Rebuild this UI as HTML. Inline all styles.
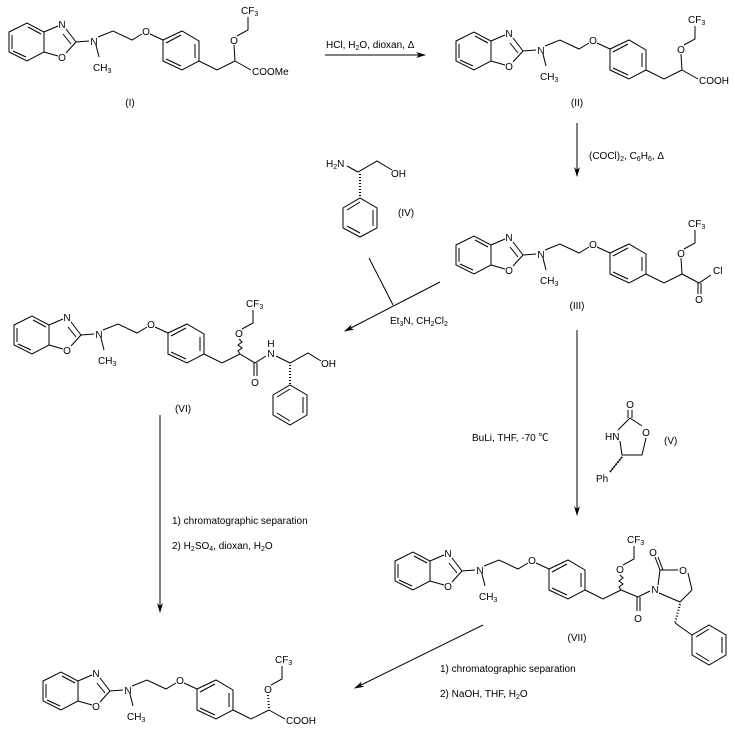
<!DOCTYPE html>
<html><head><meta charset="utf-8"><style>
html,body{margin:0;padding:0;background:#fff}
svg{display:block}
text{font-family:"Liberation Sans","Noto Sans CJK SC",sans-serif;font-size:10px;fill:#000}
.l{stroke:#000;stroke-width:1;fill:none}
</style></head><body>
<svg width="735" height="731" viewBox="0 0 735 731" xmlns="http://www.w3.org/2000/svg">
<defs>
<marker id="ah" markerWidth="10" markerHeight="8" refX="9" refY="4" orient="auto" markerUnits="userSpaceOnUse">
<path d="M0,1 L10,4 L0,7 L3,4 Z" fill="#000"/></marker>
</defs>

<!-- Compound I -->
<g transform="translate(0,0)">
<path class="l" d="M9,32 L27,23 L44,32 L44,52 L27,61 L9,52 Z M12,35 L12,49 M28,27 L41,34 M13,51 L26,57 M44,32 L58,26 M66,29 L76,42 M63,34 L71,44 M76,42 L66,53 M58,56 L44,52 M76,42 L89,41 M98,37 L113,31 L132,40 L142,34 M96,45 L99,57 M150,34 L163,40 M163,40 L182,31 L199,41 L199,61 L182,70 L163,61 Z M166,43 L181,35 M195,44 L195,58 M166,59 L181,66 M199,61 L217,70 L235,61 M235,61 L234,45 M237,36 L248,30 L248,17"/>
<text x="62" y="28" text-anchor="middle">N</text><text x="62" y="61" text-anchor="middle">O</text><text x="94" y="45" text-anchor="middle">N</text><text x="93" y="71">CH<tspan font-size="7" dy="2">3</tspan></text><text x="146" y="35" text-anchor="middle">O</text><text x="234" y="44" text-anchor="middle">O</text><text x="241" y="14">CF<tspan font-size="7" dy="2">3</tspan></text>
<path class="l" d="M235,61 L251,70"/><text x="252" y="75">COOMe</text>
<text x="130" y="106" text-anchor="middle">(I)</text>
</g>

<!-- Compound II -->
<g transform="translate(447,9)">
<path class="l" d="M9,32 L27,23 L44,32 L44,52 L27,61 L9,52 Z M12,35 L12,49 M28,27 L41,34 M13,51 L26,57 M44,32 L58,26 M66,29 L76,42 M63,34 L71,44 M76,42 L66,53 M58,56 L44,52 M76,42 L89,41 M98,37 L113,31 L132,40 L142,34 M96,45 L99,57 M150,34 L163,40 M163,40 L182,31 L199,41 L199,61 L182,70 L163,61 Z M166,43 L181,35 M195,44 L195,58 M166,59 L181,66 M199,61 L217,70 L235,61 M235,61 L234,45 M237,36 L248,30 L248,17"/>
<text x="62" y="28" text-anchor="middle">N</text><text x="62" y="61" text-anchor="middle">O</text><text x="94" y="45" text-anchor="middle">N</text><text x="93" y="71">CH<tspan font-size="7" dy="2">3</tspan></text><text x="146" y="35" text-anchor="middle">O</text><text x="234" y="44" text-anchor="middle">O</text><text x="241" y="14">CF<tspan font-size="7" dy="2">3</tspan></text>
<path class="l" d="M235,61 L251,70"/><text x="252" y="75">COOH</text>
<text x="130" y="97" text-anchor="middle">(II)</text>
</g>

<!-- Compound III -->
<g transform="translate(447,213)">
<path class="l" d="M9,32 L27,23 L44,32 L44,52 L27,61 L9,52 Z M12,35 L12,49 M28,27 L41,34 M13,51 L26,57 M44,32 L58,26 M66,29 L76,42 M63,34 L71,44 M76,42 L66,53 M58,56 L44,52 M76,42 L89,41 M98,37 L113,31 L132,40 L142,34 M96,45 L99,57 M150,34 L163,40 M163,40 L182,31 L199,41 L199,61 L182,70 L163,61 Z M166,43 L181,35 M195,44 L195,58 M166,59 L181,66 M199,61 L217,70 L235,61 M235,61 L234,45 M237,36 L248,30 L248,17"/>
<text x="62" y="28" text-anchor="middle">N</text><text x="62" y="61" text-anchor="middle">O</text><text x="94" y="45" text-anchor="middle">N</text><text x="93" y="71">CH<tspan font-size="7" dy="2">3</tspan></text><text x="146" y="35" text-anchor="middle">O</text><text x="234" y="44" text-anchor="middle">O</text><text x="241" y="14">CF<tspan font-size="7" dy="2">3</tspan></text>
<path class="l" d="M235,61 L252,70 L264,62 M251,70 L251,81 M254,70 L254,81"/><text x="266" y="61">Cl</text><text x="252" y="90" text-anchor="middle">O</text>
<text x="130" y="96" text-anchor="middle">(III)</text>
</g>

<!-- Compound VI -->
<g transform="translate(5,293)">
<path class="l" d="M9,32 L27,23 L44,32 L44,52 L27,61 L9,52 Z M12,35 L12,49 M28,27 L41,34 M13,51 L26,57 M44,32 L58,26 M66,29 L76,42 M63,34 L71,44 M76,42 L66,53 M58,56 L44,52 M76,42 L89,41 M98,37 L113,31 L132,40 L142,34 M96,45 L99,57 M150,34 L163,40 M163,40 L182,31 L199,41 L199,61 L182,70 L163,61 Z M166,43 L181,35 M195,44 L195,58 M166,59 L181,66 M199,61 L217,70 L235,61 M235,61 L233,58 L237,55 L233,52 L237,49 L234,46 M237,36 L248,30 L248,17"/>
<text x="62" y="28" text-anchor="middle">N</text><text x="62" y="61" text-anchor="middle">O</text><text x="94" y="45" text-anchor="middle">N</text><text x="93" y="71">CH<tspan font-size="7" dy="2">3</tspan></text><text x="146" y="35" text-anchor="middle">O</text><text x="234" y="44" text-anchor="middle">O</text><text x="241" y="14">CF<tspan font-size="7" dy="2">3</tspan></text>
<path class="l" d="M235,61 L250,70 L261,63 M249,70 L249,83 M252,70 L252,83 M271,63 L285,70 L303,60 L316,68 M268,102 L285,92 L302,102 L302,122 L285,132 L268,122 Z M272,104 L285,96 M298,104 L298,120 M272,120 L285,128"/>
<path d="M285,72 L285,92" stroke="#000" stroke-width="2" stroke-dasharray="1,2"/>
<text x="266" y="64" text-anchor="middle">N</text><text x="266" y="54" text-anchor="middle">H</text><text x="250" y="93" text-anchor="middle">O</text><text x="316" y="74">OH</text>
<text x="178" y="119" text-anchor="middle">(VI)</text>
</g>

<!-- Compound VII -->
<g transform="translate(386,529)">
<path class="l" d="M9,32 L27,23 L44,32 L44,52 L27,61 L9,52 Z M12,35 L12,49 M28,27 L41,34 M13,51 L26,57 M44,32 L58,26 M66,29 L76,42 M63,34 L71,44 M76,42 L66,53 M58,56 L44,52 M76,42 L89,41 M98,37 L113,31 L132,40 L142,34 M96,45 L99,57 M150,34 L163,40 M163,40 L182,31 L199,41 L199,61 L182,70 L163,61 Z M166,43 L181,35 M195,44 L195,58 M166,59 L181,66 M199,61 L217,70 L235,61 M235,61 L233,58 L237,55 L233,52 L237,49 L234,46 M237,36 L248,30 L248,17"/>
<text x="62" y="28" text-anchor="middle">N</text><text x="62" y="61" text-anchor="middle">O</text><text x="94" y="45" text-anchor="middle">N</text><text x="93" y="71">CH<tspan font-size="7" dy="2">3</tspan></text><text x="146" y="35" text-anchor="middle">O</text><text x="234" y="44" text-anchor="middle">O</text><text x="241" y="14">CF<tspan font-size="7" dy="2">3</tspan></text>
<path class="l" d="M235,61 L252,68 L264,62 M251,68 L251,82 M254,68 L254,82 M272,56 L274,41 L292,41 M274,41 L269,28 M277,41 L272,28 M302,44 L306,61 L294,73 L273,64 M289,94 L306,106 M306,106 L323,96 L340,106 L340,126 L323,136 L306,126 Z M310,108 L323,100 M336,108 L336,124 M310,124 L323,132"/>
<path d="M294,75 L289,94" stroke="#000" stroke-width="2" stroke-dasharray="1,2"/>
<text x="269" y="64" text-anchor="middle">N</text><text x="267" y="27" text-anchor="middle">O</text><text x="297" y="45" text-anchor="middle">O</text><text x="252" y="93" text-anchor="middle">O</text>
<text x="191" y="112" text-anchor="middle">(VII)</text>
</g>

<!-- Final compound -->
<g transform="translate(34,649)">
<path class="l" d="M9,32 L27,23 L44,32 L44,52 L27,61 L9,52 Z M12,35 L12,49 M28,27 L41,34 M13,51 L26,57 M44,32 L58,26 M66,29 L76,42 M63,34 L71,44 M76,42 L66,53 M58,56 L44,52 M76,42 L89,41 M98,37 L113,31 L132,40 L142,34 M96,45 L99,57 M150,34 L163,40 M163,40 L182,31 L199,41 L199,61 L182,70 L163,61 Z M166,43 L181,35 M195,44 L195,58 M166,59 L181,66 M199,61 L217,70 L235,61 M237,36 L248,30 L248,17"/>
<path d="M235,59 L234,46" stroke="#000" stroke-width="2" stroke-dasharray="1,2"/>
<text x="62" y="28" text-anchor="middle">N</text><text x="62" y="61" text-anchor="middle">O</text><text x="94" y="45" text-anchor="middle">N</text><text x="93" y="71">CH<tspan font-size="7" dy="2">3</tspan></text><text x="146" y="35" text-anchor="middle">O</text><text x="234" y="44" text-anchor="middle">O</text><text x="241" y="14">CF<tspan font-size="7" dy="2">3</tspan></text>
<path class="l" d="M235,61 L251,70"/><text x="252" y="75">COOH</text>
</g>

<!-- IV -->
<path class="l" d="M347,166 L358,172 L377,161 L392,170 M343,208 L360,198 L377,208 L377,228 L360,237 L343,228 Z M347,210 L360,202 M373,210 L373,226 M347,226 L360,233"/>
<path d="M360,174 L360,197" stroke="#000" stroke-width="2" stroke-dasharray="1,2"/>
<text x="326" y="167">H<tspan font-size="7" dy="2">2</tspan><tspan dy="-2">N</tspan></text><text x="391" y="177">OH</text>
<text x="398" y="216">(IV)</text>

<!-- V -->
<path class="l" d="M630,418 L618,430 M630,418 L642,426 M620,441 L622,455 L642,455 L646,438 M628,418 L628,410 M632,418 L632,410 M610,472 L622,457"/>
<path d="M622,457 L610,472" stroke="#000" stroke-width="2" stroke-dasharray="1,2"/>
<text x="630" y="408" text-anchor="middle">O</text><text x="605" y="440">HN</text><text x="646" y="436" text-anchor="middle">O</text><text x="596" y="482">Ph</text>
<text x="664" y="444">(V)</text>

<!-- Arrows -->
<path class="l" d="M325,55 L425,55" marker-end="url(#ah)"/>
<text x="326" y="48">HCl, H<tspan font-size="7" dy="2">2</tspan><tspan dy="-2">O, dioxan, Δ</tspan></text>
<path class="l" d="M577,123 L577,176" marker-end="url(#ah)"/>
<text x="589" y="159">(COCl)<tspan font-size="7" dy="2">2</tspan><tspan dy="-2">, C</tspan><tspan font-size="7" dy="2">6</tspan><tspan dy="-2">H</tspan><tspan font-size="7" dy="2">6</tspan><tspan dy="-2">, Δ</tspan></text>
<path class="l" d="M440,282 L345,331" marker-end="url(#ah)"/>
<path class="l" d="M369,258 L393,305"/>
<text x="390" y="324">Et<tspan font-size="7" dy="2">3</tspan><tspan dy="-2">N, CH</tspan><tspan font-size="7" dy="2">2</tspan><tspan dy="-2">Cl</tspan><tspan font-size="7" dy="2">2</tspan></text>
<path class="l" d="M577,330 L577,515" marker-end="url(#ah)"/>
<text x="472" y="441">BuLi, THF, -70 ℃</text>
<path class="l" d="M160,415 L160,612" marker-end="url(#ah)"/>
<text x="172" y="524">1) chromatographic separation</text>
<text x="172" y="549">2) H<tspan font-size="7" dy="2">2</tspan><tspan dy="-2">SO</tspan><tspan font-size="7" dy="2">4</tspan><tspan dy="-2">, dioxan, H</tspan><tspan font-size="7" dy="2">2</tspan><tspan dy="-2">O</tspan></text>
<path class="l" d="M483,625 L355,688" marker-end="url(#ah)"/>
<text x="440" y="672">1) chromatographic separation</text>
<text x="440" y="697">2) NaOH, THF, H<tspan font-size="7" dy="2">2</tspan><tspan dy="-2">O</tspan></text>
</svg>
</body></html>
